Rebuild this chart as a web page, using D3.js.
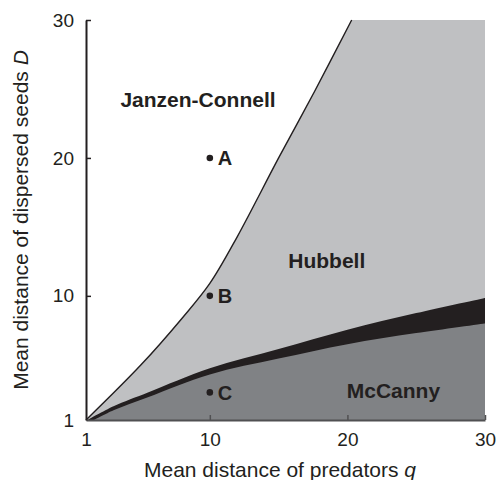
<!DOCTYPE html>
<html>
<head>
<meta charset="utf-8">
<script src="https://cdn.jsdelivr.net/npm/d3@7"></script>
<style>
  html, body { margin: 0; padding: 0; background: #fff; }
  svg { display: block; }
  text { font-family: "Liberation Sans", Arial, sans-serif; fill: #231f20; }
</style>
</head>
<body>
<svg id="chart" width="501" height="480"></svg>
<script>
// ---- data ----
const xTicks = [1, 10, 20, 30];
const yTicks = [1, 10, 20, 30];
// Janzen-Connell / Hubbell boundary
const upperQ = [1, 5, 8, 10, 12, 15, 17.6, 20.31];
const upperD = [1, 5, 8.4, 10.9, 14.3, 20, 24.8, 30];
// black band: upper edge
const bandTopQ = [1.1, 3, 5.5, 10, 15, 20, 25, 30];
const bandTopD = [1, 2.0, 3.0, 4.75, 6.15, 7.55, 8.75, 9.85];
// black band: lower edge (McCanny boundary)
const bandBotQ = [1.6, 3, 5.5, 10, 15, 20, 25, 30];
const bandBotD = [1, 1.7, 2.65, 4.3, 5.45, 6.5, 7.3, 8.0];
// labelled points
const pointNames = ["A", "B", "C"];
const pointQ = [10, 10, 10];
const pointD = [20, 10, 3];
// region labels
const regionNames = ["Janzen-Connell", "Hubbell", "McCanny"];
const regionQ = [3.5, 15.7, 19.95];
const regionD = [23.7, 12.0, 2.6];

const svg = d3.select("#chart");
const x = d3.scaleLinear().domain([1, 30]).range([86, 485]);
const y = d3.scaleLinear().domain([1, 30]).range([420, 20]);

const zip = (a, b) => a.map((v, i) => [v, b[i]]);
const upper = zip(upperQ, upperD);
const bTop = zip(bandTopQ, bandTopD);
const bBot = zip(bandBotQ, bandBotD);
const curve = d3.curveCatmullRom.alpha(0.5);

// light gray plot background (Hubbell)
svg.append("rect")
  .attr("x", x(1)).attr("y", y(30))
  .attr("width", x(30) - x(1)).attr("height", y(1) - y(30))
  .attr("fill", "#bfc0c2");

// white region above the boundary (Janzen-Connell)
const whiteArea = d3.area()
  .x(d => x(d[0])).y0(d => y(d[1])).y1(y(30))
  .curve(curve);
svg.append("path").datum(upper).attr("d", whiteArea).attr("fill", "#fff");

// black band
const toBase = d3.area()
  .x(d => x(d[0])).y0(y(1)).y1(d => y(d[1]))
  .curve(curve);
svg.append("path").datum(bTop).attr("d", toBase).attr("fill", "#231f20");
// dark gray region (McCanny)
svg.append("path").datum(bBot).attr("d", toBase).attr("fill", "#808285");

// boundary line
const line = d3.line().x(d => x(d[0])).y(d => y(d[1])).curve(curve);
svg.append("path").datum(upper).attr("d", line)
  .attr("fill", "none").attr("stroke", "#231f20").attr("stroke-width", 1.4);

// axes
const xAxis = d3.axisBottom(x).tickValues(xTicks).tickSize(-5).tickPadding(13).tickSizeOuter(0);
const gx = svg.append("g").attr("transform", `translate(0,${y(1)})`).call(xAxis);
gx.select(".domain").attr("stroke", "#505052").attr("stroke-width", 2);
gx.selectAll(".tick line").attr("stroke", "#505052").attr("stroke-width", 1.5);
gx.selectAll(".tick").filter(d => d === 1).select("line").remove();
gx.selectAll("text").attr("font-size", 19).attr("font-family", "Liberation Sans, Arial, sans-serif").attr("fill", "#231f20");

const yAxis = d3.axisLeft(y).tickValues(yTicks).tickSize(-5).tickPadding(12).tickSizeOuter(0);
const gy = svg.append("g").attr("transform", `translate(${x(1)},0)`).call(yAxis);
gy.select(".domain").attr("stroke", "#231f20").attr("stroke-width", 2);
gy.selectAll(".tick line").attr("stroke", "#231f20").attr("stroke-width", 1.5);
gy.selectAll(".tick").filter(d => d === 1).select("line").remove();
gy.selectAll("text").attr("font-size", 19).attr("font-family", "Liberation Sans, Arial, sans-serif").attr("fill", "#231f20");

// axis titles
const xt = svg.append("text").attr("x", 280).attr("y", 477)
  .attr("text-anchor", "middle").attr("font-size", 21);
xt.append("tspan").text("Mean distance of predators ");
xt.append("tspan").attr("font-style", "italic").text("q");

const yt = svg.append("text").attr("transform", "translate(28,220) rotate(-90)")
  .attr("text-anchor", "middle").attr("font-size", 21);
yt.append("tspan").text("Mean distance of dispersed seeds ");
yt.append("tspan").attr("font-style", "italic").text("D");

// region labels
svg.selectAll(".region").data(regionNames).enter().append("text")
  .attr("class", "region")
  .attr("x", (d, i) => x(regionQ[i])).attr("y", (d, i) => y(regionD[i]))
  .attr("font-size", 21).attr("font-weight", "bold")
  .text(d => d);

// points
svg.selectAll(".pt").data(pointNames).enter().append("circle")
  .attr("class", "pt")
  .attr("cx", (d, i) => x(pointQ[i])).attr("cy", (d, i) => y(pointD[i]))
  .attr("r", 3.3).attr("fill", "#231f20");
svg.selectAll(".ptl").data(pointNames).enter().append("text")
  .attr("class", "ptl")
  .attr("x", (d, i) => x(pointQ[i]) + 8).attr("y", (d, i) => y(pointD[i]) + 7.5)
  .attr("font-size", 20).attr("font-weight", "bold")
  .text(d => d);
</script>
</body>
</html>
